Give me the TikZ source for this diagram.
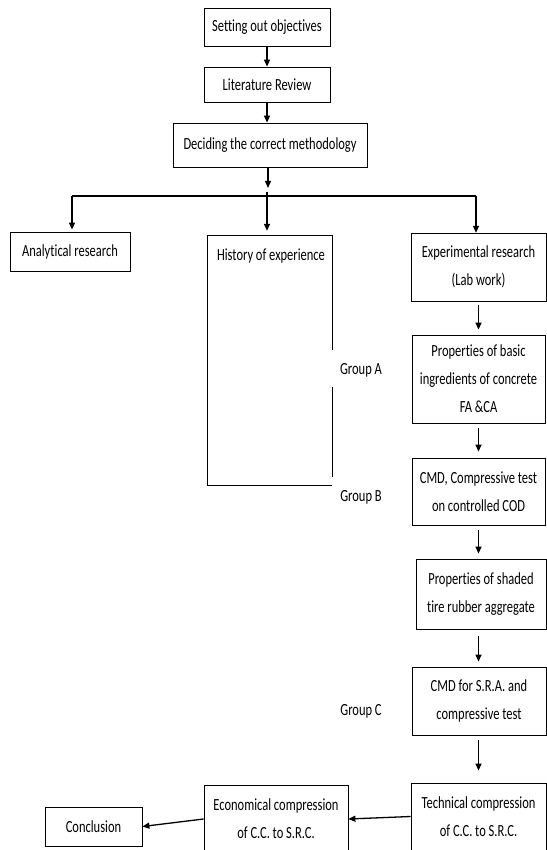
\documentclass[tikz,border=0pt]{standalone}
\usepackage{fontspec}
\setmainfont[FakeStretch=0.735,Ligatures={NoCommon}]{Carlito}
\usetikzlibrary{arrows.meta}
\begin{document}
\begin{tikzpicture}[x=1pt,y=-1pt,
  box/.style={draw,line width=0.8pt,align=center,inner sep=0pt},
  flow/.style={-{Triangle[length=7pt,width=6pt]},line width=1.3pt},
  font=\fontsize{17}{28}\selectfont]
\useasboundingbox (0,0) rectangle (546,850);

\node[box,minimum width=126pt,minimum height=38pt] (obj) at (267,27) {Setting out objectives};
\node[box,minimum width=126pt,minimum height=35pt] (lit) at (267,84.5) {Literature Review};
\node[box,minimum width=194pt,minimum height=44pt] (meth) at (270,145) {Deciding the correct methodology};

\draw[flow] (obj) -- (lit);
\draw[flow] (lit) -- (lit |- meth.north);
\coordinate (split) at (268,188);
\draw[flow] (meth.south -| split) -- (split);

\coordinate (bl) at (72,196);
\coordinate (bm) at (267,192);
\coordinate (br) at (476,196);
\draw[line width=1.3pt] (bl) -- (br);

\node[box,minimum width=120pt,minimum height=39pt] (ana) at (70,251.5) {Analytical research};
\node[minimum width=124pt,minimum height=249pt,inner sep=0pt] (hist) at (270,360.5) {};
\node (histtxt) at (271,256) {History of experience};
\draw[line width=0.8pt] ([yshift=-114pt]hist.north east) -- (hist.north east) -- (hist.north west)
  -- (hist.south west) -- (hist.south east);
\draw[line width=0.8pt] ([yshift=-151pt]hist.north east) -- ([yshift=8pt]hist.south east);

\draw[flow,shorten >=2pt] (bl) -- (bl |- ana.north);
\draw[flow,shorten >=5pt] (bm) -- (bm |- hist.north);
\draw[flow,shorten >=3pt] (br) -- (br |- hist.north);

\node (grpA) at (361,370) {Group A};
\node (grpB) at (361,497) {Group B};
\node (grpC) at (361,711) {Group C};

\node[box,minimum width=135pt,minimum height=68pt] (exp) at (478.5,267) {Experimental research\\(Lab work)};
\node[box,minimum width=133pt,minimum height=88pt] (basic) at (478.5,379) {Properties of basic\\ingredients of concrete\\FA \&CA};
\node[box,minimum width=133pt,minimum height=67pt] (cmdA) at (478.5,491.5) {CMD, Compressive test\\on controlled COD};
\node[box,minimum width=130pt,minimum height=70pt] (tire) at (481,594) {Properties of shaded\\tire rubber aggregate};
\node[box,minimum width=134pt,minimum height=68pt] (cmdB) at (479,701) {CMD for S.R.A. and\\compressive test};
\node[box,minimum width=135pt,minimum height=67pt] (tech) at (478.5,816.5) {Technical compression\\of C.C. to S.R.C.};
\node[box,minimum width=144pt,minimum height=68pt] (econ) at (276,819) {Economical compression\\of C.C. to S.R.C.};
\node[box,minimum width=97pt,minimum height=39pt] (concl) at (93.5,826.5) {Conclusion};

\draw[flow,shorten <=4pt,shorten >=5pt] (exp) -- (basic);
\draw[flow,shorten <=5pt,shorten >=6pt] (basic) -- (cmdA);
\draw[flow,shorten <=5pt,shorten >=5pt] (cmdA.south) -- (cmdA.south |- tire.north);
\draw[flow,shorten <=7pt,shorten >=5pt] (tire.south -| cmdA) -- (cmdB.north -| cmdA);
\draw[flow,shorten <=5pt,shorten >=12pt] (cmdB.south -| cmdA) -- (tech.north -| cmdA);
\draw[flow] (tech.west) -- (econ.east);
\draw[flow] (econ.west) -- (concl.east);
\end{tikzpicture}
\end{document}
